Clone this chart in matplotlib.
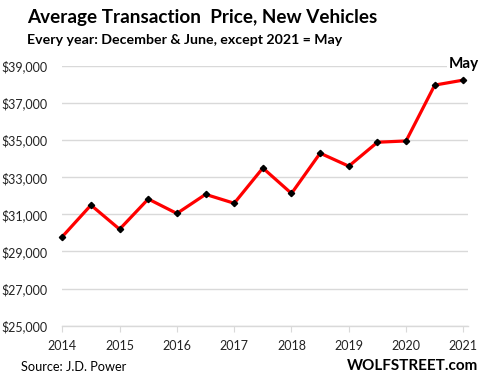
import matplotlib.pyplot as plt
from matplotlib.ticker import FuncFormatter

# Half-year observations: Dec & June each year, last point = May 2021
x_pos = [2014, 2014.5, 2015, 2015.5, 2016, 2016.5, 2017, 2017.5,
         2018, 2018.5, 2019, 2019.5, 2020, 2020.5, 2021]
prices = [29800, 31500, 30200, 31830, 31050, 32080, 31600, 33500,
          32130, 34300, 33600, 34890, 34960, 37970, 38240]
year_ticks = [2014, 2015, 2016, 2017, 2018, 2019, 2020, 2021]
price_ticks = [25000, 27000, 29000, 31000, 33000, 35000, 37000, 39000]

plt.rcParams['font.family'] = ['Lato', 'DejaVu Sans']

fig = plt.figure(figsize=(4.89, 3.83), dpi=100)
ax = fig.add_axes([0.1274, 0.1496, 0.8296, 0.6781])

ax.plot(x_pos, prices, color='#ff0000', linewidth=2.3, zorder=3, clip_on=False)
ax.plot(x_pos, prices, linestyle='none', marker='D', markersize=3.2,
        color='black', zorder=4, clip_on=False)

ax.set_xlim(2014, 2021.08)
ax.set_ylim(25000, 39000)
ax.set_xticks(year_ticks)
ax.set_yticks(price_ticks)
ax.yaxis.set_major_formatter(FuncFormatter(lambda v, p: f"${v:,.0f}"))

ax.grid(axis='y', color='#d9d9d9', linewidth=1)
ax.set_axisbelow(True)
for s in ['top', 'right', 'left']:
    ax.spines[s].set_visible(False)
ax.spines['bottom'].set_color('#d9d9d9')
ax.spines['bottom'].set_linewidth(1)
ax.tick_params(axis='y', length=0, pad=11, labelsize=9, labelcolor='#222222')
ax.tick_params(axis='x', length=4, color='#d9d9d9', pad=6, labelsize=9,
               labelcolor='#222222')

# Label for the final point
ax.text(2021.27, 39100, "May", fontsize=11, fontweight='bold',
        ha='right', va='center', zorder=5, clip_on=False,
        bbox=dict(facecolor='white', edgecolor='none', pad=1.5))

fig.text(27 / 489, 1 - 17 / 383, "Average Transaction  Price, New Vehicles",
         fontsize=13.6, fontweight='bold', va='center', ha='left')
fig.text(27 / 489, 1 - 40 / 383, "Every year: December & June, except 2021 = May",
         fontsize=10.2, fontweight='bold', va='center', ha='left')
fig.text(21 / 489, 1 - 367 / 383, "Source: J.D. Power",
         fontsize=9.2, va='center', ha='left')
fig.text(478 / 489, 1 - 366 / 383, "WOLFSTREET.com",
         fontsize=11, fontweight='bold', va='center', ha='right')

fig.savefig("out.png", dpi=100)
